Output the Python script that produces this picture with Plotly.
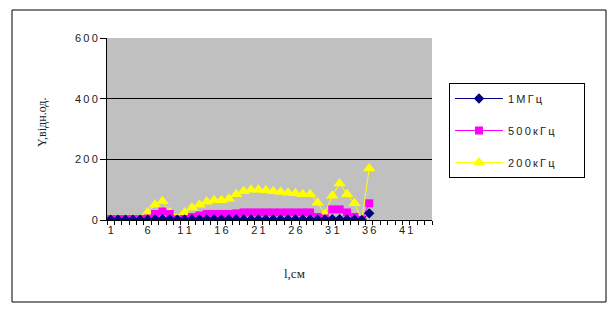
import plotly.graph_objects as go

categories = list(range(1, 45))
x_data = list(range(1, 37))

s_1mhz = [1, 1, 1, 1, 1, 1, 2, 3, 3, 1, 1, 2, 2, 2, 2, 2, 2, 2, 2, 2, 2, 2, 2, 2, 2, 2, 2, 2, 1, 1, 3, 3, 2, 1, 0, 22]
s_500k = [3, 3, 3, 3, 3, 5, 20, 28, 20, 2, 3, 10, 15, 20, 20, 20, 20, 22, 25, 25, 25, 25, 25, 25, 25, 25, 25, 25, 10, 5, 35, 35, 25, 10, 0, 55]
s_200k = [2, 2, 2, 2, 2, 25, 50, 62, 25, 5, 25, 40, 50, 60, 65, 65, 70, 85, 95, 100, 100, 98, 95, 92, 90, 88, 85, 85, 57, 20, 80, 120, 85, 55, 0, 170]

SP = "\u2009"
def spaced(s):
    return SP.join(list(s))

pad = "\u00a0" * 8
names = [spaced("1МГц") + pad, spaced("500кГц") + pad, spaced("200кГц") + pad]
x_ticks = [1, 6, 11, 16, 21, 26, 31, 36, 41]
y_ticks = [0, 200, 400, 600]

fig = go.Figure()
fig.add_trace(go.Scatter(x=x_data, y=s_200k, name=names[2], mode="lines+markers",
                         line=dict(color="#FFFF00", width=1),
                         marker=dict(symbol="triangle-up", size=11, color="#FFFF00"),
                         legendgroup="c", legendrank=3))
fig.add_trace(go.Scatter(x=x_data, y=s_500k, name=names[1], mode="lines+markers",
                         line=dict(color="#FF00FF", width=1),
                         marker=dict(symbol="square", size=8, color="#FF00FF"),
                         legendgroup="b", legendrank=2))
fig.add_trace(go.Scatter(x=x_data, y=s_1mhz, name=names[0], mode="lines+markers",
                         line=dict(color="#000080", width=1),
                         marker=dict(symbol="diamond", size=8, color="#000080"),
                         legendgroup="a", legendrank=1))

# page body has an 8px margin; work in figure coordinates
OFF = 8
W, H = 600, 300
L, R, T, B = 107 - OFF, 432 - OFF, 38 - OFF, 220 - OFF

def px(x):
    return (x - OFF - L) / (R - L)

def py(y):
    return (B - (y - OFF)) / (B - T)

fig.update_layout(
    width=W, height=H,
    margin=dict(l=L, r=W - R, t=T, b=H - B, pad=0),
    paper_bgcolor="white",
    plot_bgcolor="#C0C0C0",
    font=dict(family="Liberation Sans, Arial", size=11, color="#222222"),
    showlegend=True,
    legend=dict(x=px(449), y=py(83), xanchor="left", yanchor="top",
                bgcolor="white", bordercolor="black", borderwidth=1,
                font=dict(size=11, family="Liberation Sans, Arial", color="#222222"),
                tracegroupgap=13, traceorder="grouped", itemwidth=48),
    xaxis=dict(range=[0.5, 44.5], tickmode="array", tickvals=x_ticks,
               ticktext=[spaced(str(v)) for v in x_ticks], ticks="",
               showgrid=False, zeroline=False, showline=True, linecolor="black",
               linewidth=1,
               minor=dict(ticks="outside", tick0=0.5, dtick=1, ticklen=4,
                          tickcolor="black", showgrid=False),
               fixedrange=True),
    yaxis=dict(range=[0, 600], tickmode="array", tickvals=y_ticks,
               ticktext=[spaced(str(v)) for v in y_ticks],
               ticks="outside", ticklen=6, tickcolor="black",
               showgrid=True, gridcolor="black", gridwidth=1,
               zeroline=False, showline=True, linecolor="black", linewidth=1,
               fixedrange=True),
    shapes=[dict(type="rect", xref="paper", yref="paper",
                 x0=px(12), x1=px(606), y0=py(302), y1=py(10),
                 line=dict(color="black", width=1), fillcolor="rgba(0,0,0,0)", layer="below")],
    annotations=[
        dict(text="l,см", xref="paper", yref="paper", x=px(294), y=py(283),
             showarrow=False, font=dict(family="Liberation Serif, Times New Roman", size=13, color="#222222")),
        dict(text="Y,відн.од.", xref="paper", yref="paper", x=px(33), y=py(123),
             textangle=-90, showarrow=False,
             font=dict(family="Liberation Serif, Times New Roman", size=12, color="#222222")),
    ],
)

fig.write_html("out.html")
